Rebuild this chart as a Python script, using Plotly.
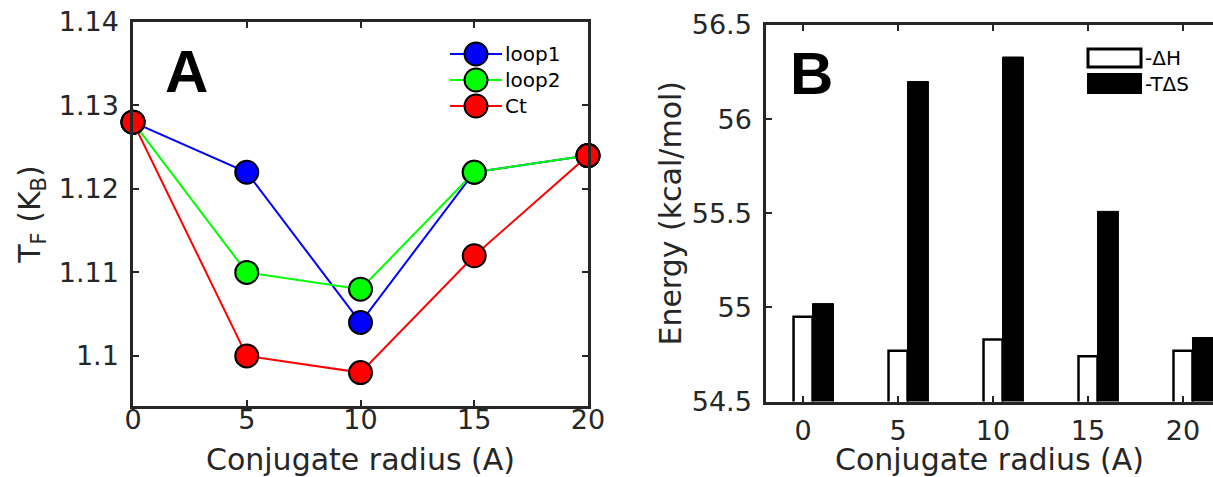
import plotly.graph_objects as go

# ---------------- data ----------------
radius = [0, 5, 10, 15, 20]
loop1 = [1.128, 1.122, 1.104, 1.122, 1.124]
loop2 = [1.128, 1.110, 1.108, 1.122, 1.124]
ct = [1.128, 1.100, 1.098, 1.112, 1.124]

neg_dH = [54.95, 54.77, 54.83, 54.74, 54.77]
neg_TdS = [55.02, 56.20, 56.33, 55.51, 54.84]

left_yticks = [1.1, 1.11, 1.12, 1.13, 1.14]
right_yticks = [54.5, 55, 55.5, 56, 56.5]

# ---------------- layout helpers ----------------
W, H = 1213, 477
def px(x):
    return x / W
def py(y):
    return 1 - y / H

TXT = "#262626"
FONT = "DejaVu Sans"

fig = go.Figure()

series = [("loop1", loop1, "#0000ff"), ("loop2", loop2, "#00ff00"), ("Ct", ct, "#ff0000")]
for name, vals, col in series:
    fig.add_trace(go.Scatter(
        x=radius, y=vals, name=name, mode="lines+markers",
        line=dict(color=col, width=2),
        marker=dict(size=23, color=col, line=dict(color="black", width=2)),
        cliponaxis=False, showlegend=False, xaxis="x", yaxis="y"))

bar_shift = 1.05
fig.add_trace(go.Bar(
    x=radius, y=neg_dH, name="-ΔH", width=1.0,
    marker=dict(color="white", line=dict(color="black", width=2.5)),
    showlegend=False, xaxis="x2", yaxis="y2"))
fig.add_trace(go.Bar(
    x=[r + bar_shift for r in radius], y=neg_TdS, name="-TΔS", width=1.1,
    marker=dict(color="black", line=dict(color="black", width=1)),
    showlegend=False, xaxis="x2", yaxis="y2"))

axis_common = dict(
    showline=True, linecolor=TXT, linewidth=2.5, ticks="inside", ticklen=6,
    tickwidth=2, tickcolor=TXT, showgrid=False, zeroline=False, automargin=False,
    tickfont=dict(family=FONT, size=27, color=TXT),
)
title_font = dict(family=FONT, size=30, color=TXT)

fig.update_layout(
    template="none",
    width=W, height=H, autosize=False,
    margin=dict(l=0, r=0, t=0, b=0, pad=0),
    paper_bgcolor="white", plot_bgcolor="white",
    barmode="overlay",
    font=dict(family=FONT, color=TXT),
    xaxis=dict(axis_common, domain=[px(133), px(588)], range=[0, 20],
               tickvals=radius, mirror="ticks", anchor="y", ticklabelstandoff=-12,
               title=dict(text="Conjugate radius (A)", font=title_font, standoff=17)),
    yaxis=dict(axis_common, domain=[py(406), py(22)], range=[1.094, 1.14],
               tickvals=left_yticks, mirror="ticks", anchor="x", ticklabelstandoff=6,
               title=dict(text="T<sub>F</sub> (K<sub>B</sub>)", font=title_font, standoff=10)),
    xaxis2=dict(axis_common, domain=[px(766), 1.0], range=[-1.95, 21.58],
                tickvals=radius, mirror="ticks", anchor="y2", ticklabelstandoff=3,
                title=dict(text="Conjugate radius (A)", font=title_font, standoff=15)),
    yaxis2=dict(axis_common, domain=[py(401.5), py(25)], range=[54.5, 56.5],
                tickvals=right_yticks, mirror=False, anchor="x2", ticklabelstandoff=6,
                title=dict(text="Energy (kcal/mol)", font=title_font, standoff=2)),
)

# panel letters
fig.add_annotation(text="<b>A</b>", x=px(186), y=py(71), xref="paper", yref="paper",
                   xanchor="center", yanchor="middle",
                   showarrow=False, font=dict(family="Liberation Sans", size=60, color="black"))
fig.add_annotation(text="<b>B</b>", x=px(811), y=py(73), xref="paper", yref="paper",
                   xanchor="center", yanchor="middle",
                   showarrow=False, font=dict(family="Liberation Sans", size=60, color="black"))

# legend A (manual)
leg_y = [54, 80, 106]
for (name, vals, col), yy in zip(series, leg_y):
    fig.add_shape(type="line", xref="paper", yref="paper",
                  x0=px(450), x1=px(502), y0=py(yy), y1=py(yy),
                  line=dict(color=col, width=2))
    fig.add_shape(type="circle", xref="paper", yref="paper",
                  xsizemode="pixel", ysizemode="pixel",
                  xanchor=px(476), yanchor=py(yy),
                  x0=-11.5, x1=11.5, y0=-11.5, y1=11.5,
                  fillcolor=col, line=dict(color="black", width=2))
    fig.add_annotation(text=name, x=px(503), y=py(yy), xref="paper", yref="paper",
                       xanchor="left", yanchor="middle", showarrow=False,
                       font=dict(family=FONT, size=20, color="black"))

# legend B (manual)
fig.add_shape(type="rect", xref="paper", yref="paper",
              x0=px(1088), x1=px(1141), y0=py(67), y1=py(49),
              fillcolor="white", line=dict(color="black", width=3))
fig.add_shape(type="rect", xref="paper", yref="paper",
              x0=px(1087), x1=px(1142), y0=py(94), y1=py(73),
              fillcolor="black", line=dict(color="black", width=0))
fig.add_annotation(text="-ΔH", x=px(1143), y=py(58), xref="paper", yref="paper",
                   xanchor="left", yanchor="middle", showarrow=False,
                   font=dict(family=FONT, size=20, color="black"))
fig.add_annotation(text="-TΔS", x=px(1143), y=py(84), xref="paper", yref="paper",
                   xanchor="left", yanchor="middle", showarrow=False,
                   font=dict(family=FONT, size=20, color="black"))

fig.write_html("out.html",
               config={"displayModeBar": False},
               post_script="document.body.style.margin='0';document.body.style.padding='0';"
                           "document.body.style.overflow='hidden';")
